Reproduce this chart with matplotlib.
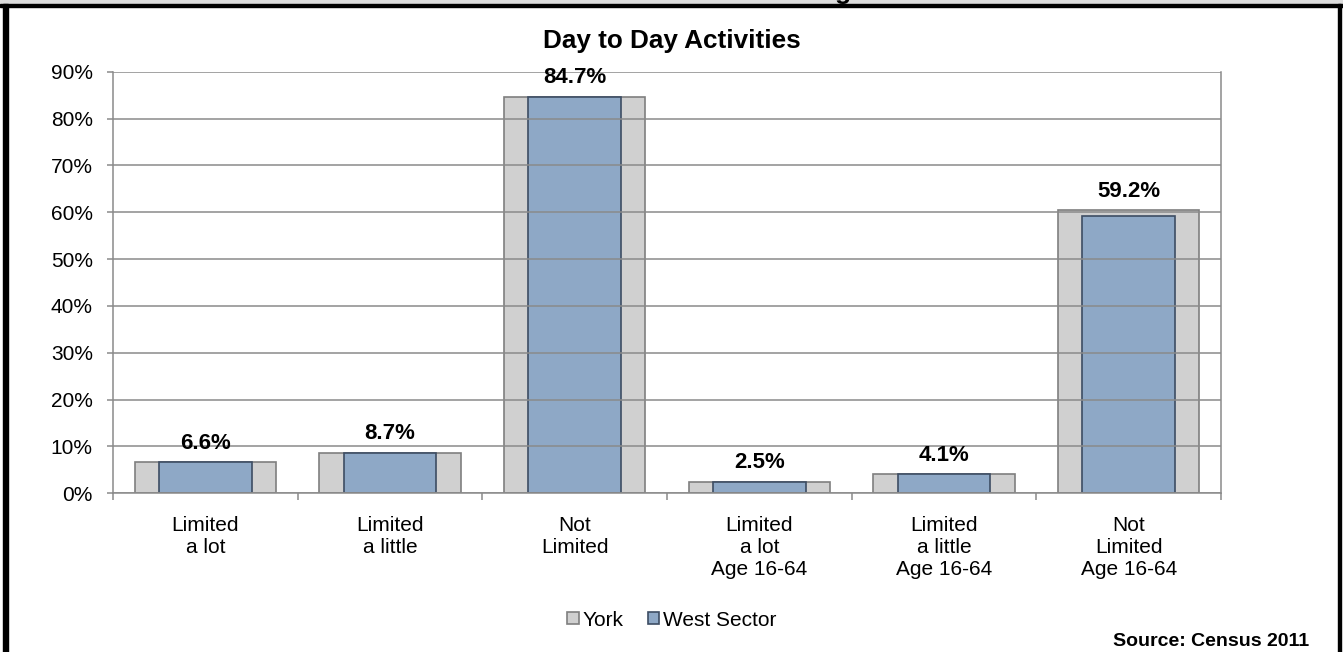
import numpy as np
import matplotlib.pyplot as plt
from matplotlib.patches import Rectangle

plt.rcParams['font.family'] = ['Liberation Sans', 'DejaVu Sans']

categories = ["Limited\na lot", "Limited\na little", "Not\nLimited",
              "Limited\na lot\nAge 16-64", "Limited\na little\nAge 16-64",
              "Not\nLimited\nAge 16-64"]
york = [6.6, 8.7, 84.7, 2.4, 4.1, 60.5]
west = [6.6, 8.7, 84.7, 2.5, 4.1, 59.2]
labels = ["6.6%", "8.7%", "84.7%", "2.5%", "4.1%", "59.2%"]

W, H = 1343, 652
fig = plt.figure(figsize=(W / 100, H / 100), dpi=100)
ax = fig.add_axes([113 / W, 1 - 493.3 / H, 1108 / W, (493.3 - 71.7) / H])

x = np.arange(len(categories))
ax.bar(x, york, width=0.767, color='#d0d0d0', edgecolor='#7f7f7f', linewidth=1.2,
       label='York', zorder=1)
ax.bar(x, west, width=0.502, color='#8ea8c6', edgecolor='#3d4d63', linewidth=1.2,
       label='West Sector', zorder=1.5)

# gridlines sit on top of the bars like in the original
ax.set_axisbelow(False)
ax.yaxis.grid(True, color='#8a8a8a', linewidth=1.1, zorder=2.5)

for i, lab in enumerate(labels):
    top = max(york[i], west[i])
    ax.annotate(lab, (x[i], top), xytext=(0, 6), textcoords='offset points',
                ha='center', va='bottom', fontsize=16, fontweight='bold')

ax.set_ylim(0, 90)
ax.set_xlim(-0.5, len(categories) - 0.5)
ax.set_yticks(np.arange(0, 91, 10))
ax.set_yticklabels([f"{v}%" for v in range(0, 91, 10)])
ax.set_xticks(x)
ax.set_xticklabels(categories, linespacing=1.2)
ax.set_xticks(np.arange(-0.5, len(categories)), minor=True)
ax.tick_params(axis='x', which='major', length=0, labelsize=15, pad=16)
ax.tick_params(axis='x', which='minor', length=5, color='#8a8a8a', width=1.1)
ax.tick_params(axis='y', length=4.5, color='#8a8a8a', width=1.1, labelsize=15, pad=10)

for side in ['left', 'right', 'bottom']:
    ax.spines[side].set_color('#8a8a8a')
    ax.spines[side].set_linewidth(1.1)
ax.spines['top'].set_visible(False)

fig.text(0.5, 1 - 41 / H, "Day to Day Activities", ha='center', va='center',
         fontsize=18.8, fontweight='bold')

ax.legend(loc='center', bbox_to_anchor=(672 / W, 1 - 620 / H), bbox_transform=fig.transFigure,
          ncol=2, frameon=False, fontsize=15, handlelength=0.55, handleheight=0.55,
          handletextpad=0.2, columnspacing=1.15)

fig.text(1309 / W, 1 - 641 / H, "Source: Census 2011", ha='right', va='center',
         fontsize=14, fontweight='bold')

# frame of the cropped document
fig.add_artist(Rectangle((0, 1 - 4 / H), 1, 4 / H, transform=fig.transFigure,
                         color='#dcdcdc', zorder=0))
fig.add_artist(Rectangle((0, 1 - 7 / H), 1, 3.2 / H, transform=fig.transFigure,
                         color='black', zorder=3))
fig.add_artist(Rectangle((3 / W, 0), 5 / W, 1 - 4 / H, transform=fig.transFigure,
                         color='black', zorder=3))
fig.add_artist(Rectangle((1338 / W, 0), 2.5 / W, 1 - 4 / H, transform=fig.transFigure,
                         color='black', zorder=3))
fig.text(843 / W, 1 + 1.5 / H, "g", ha='center', va='baseline', fontsize=19,
         fontweight='bold', zorder=4)

fig.savefig("out.png", dpi=100)
